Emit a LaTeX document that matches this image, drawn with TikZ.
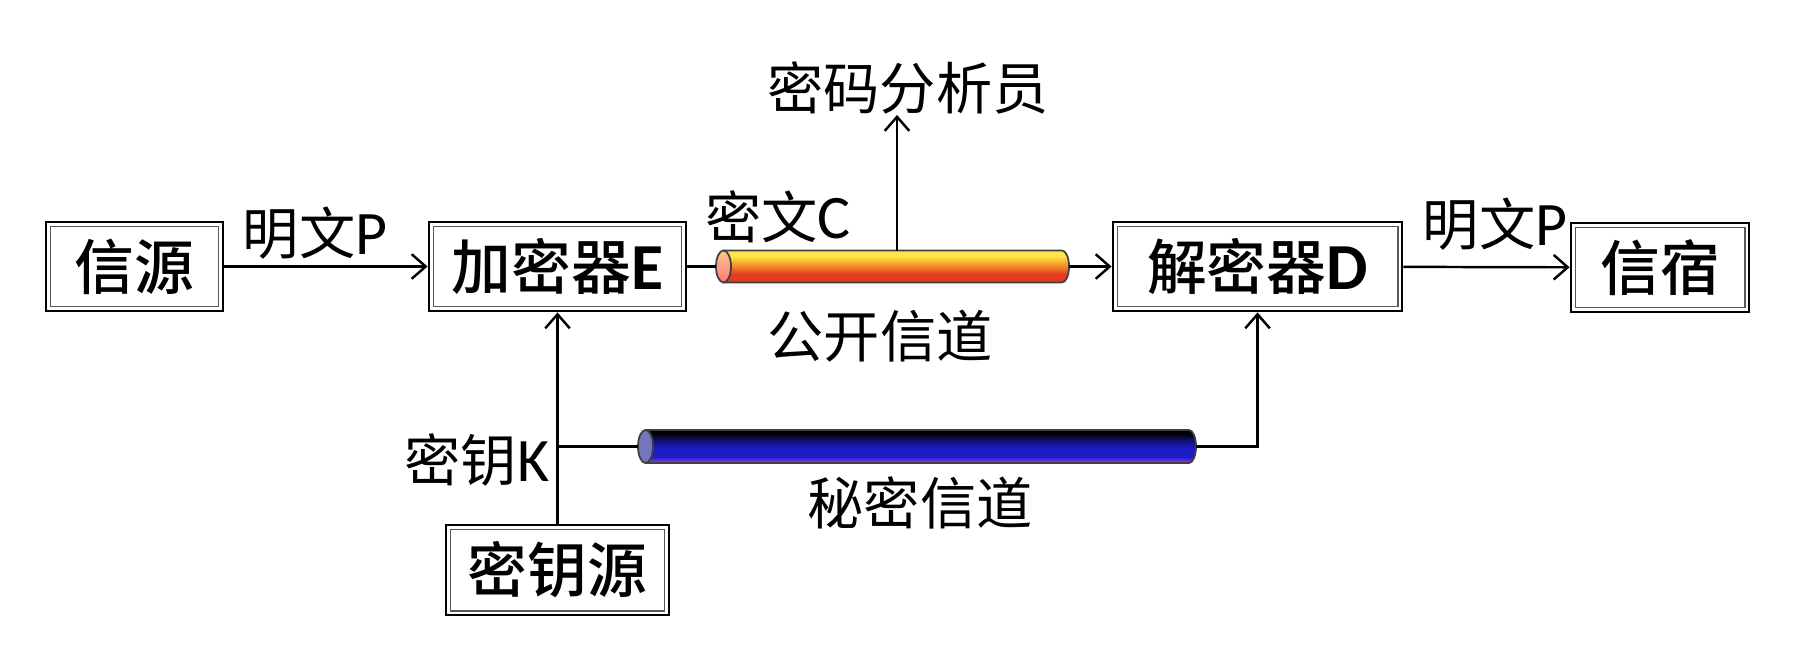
\documentclass[tikz,border=0pt]{standalone}
\usepackage{fontspec}
\setmainfont{Noto Sans CJK SC}
\newfontfamily\boxfont{Noto Sans CJK SC Medium}
\newfontfamily\latfont{Carlito}[Scale=1.1]
\newcommand\lat[1]{{\latfont #1}}
\usetikzlibrary{arrows.meta}
\definecolor{tuYellow}{HTML}{FFE545}
\definecolor{tuOrange}{HTML}{F39A2A}
\definecolor{tuRed}{HTML}{E33A22}
\definecolor{secBlue}{HTML}{1C1CC8}
\definecolor{secPurple}{HTML}{8A2BE0}
\pgfdeclareverticalshading{pubtube}{100bp}{color(0bp)=(red!45!black); color(25bp)=(red!45!black); color(27bp)=(tuRed); color(38bp)=(tuRed); color(53bp)=(tuOrange); color(66bp)=(tuYellow); color(75bp)=(tuYellow); color(100bp)=(tuYellow)}
\pgfdeclareverticalshading{sectube}{100bp}{color(0bp)=(secPurple); color(25bp)=(secPurple); color(28bp)=(secPurple); color(34bp)=(secBlue); color(46bp)=(secBlue); color(60bp)=(secBlue!55!black); color(70bp)=(black); color(100bp)=(black)}

\begin{document}
\begin{tikzpicture}[>={Straight Barb[length=4pt,width=7pt]},
  blk/.style={draw=black,line width=0.8pt,minimum height=0.89cm,inner sep=0pt,
    font=\fontsize{17pt}{19pt}\selectfont\boxfont},
  innerline/.style={gray!70!black,line width=0.4pt},
  lbl/.style={inner sep=0pt,font=\fontsize{16pt}{18pt}\selectfont},
  conn/.style={line width=0.7pt}]
\useasboundingbox (0,0) rectangle (18.02,6.54);
% boxes
\node[blk,minimum width=1.77cm] (src) at (1.345,3.875) {信源};
\node[blk,minimum width=2.57cm] (enc) at (5.575,3.875) {加密器\lat{\bfseries E}};
\node[blk,minimum width=2.89cm] (dec) at (12.575,3.875) {解密器\lat{\bfseries D}};
\node[blk,minimum width=1.78cm] (dst) at (16.60,3.865) {信宿};
\node[blk,minimum width=2.23cm,minimum height=0.90cm] (ksrc) at (5.575,0.84) {密钥源};
\foreach \n in {src,enc,dec,dst,ksrc}
  \draw[innerline] ([shift={(1.6pt,1.6pt)}]\n.south west) rectangle ([shift={(-1.6pt,-1.6pt)}]\n.north east);
% labels
\node[lbl] (ptxtL) at (3.15,4.21) {明文\lat{P}};
\node[lbl] (ctxt) at (7.78,4.37) {密文\lat{C}};
\node[lbl] (ana) at (9.08,5.66) {密码分析员};
\node[lbl] (pubch) at (8.80,3.18) {公开信道};
\node[lbl] (ptxtR) at (14.95,4.30) {明文\lat{P}};
\node[lbl] (key) at (4.77,1.94) {密钥\lat{K}};
\node[lbl] (secch) at (9.20,1.51) {秘密信道};
% public channel tube
\coordinate (pubW) at (7.16,3.875);
\coordinate (pubE) at (10.69,3.875);
\coordinate (tap) at (8.97,4.035);
\shadedraw[shading=pubtube,draw=black!75,line width=0.5pt] (7.235,3.715) -- (10.62,3.715)
  arc[start angle=-90,end angle=90,x radius=0.07,y radius=0.16] -- (7.235,4.035) -- cycle;
\draw[draw=black!75,line width=0.5pt,top color=orange!45!white,bottom color=red!45!pink!90!white]
  (7.235,3.875) ellipse[x radius=0.075,y radius=0.16];
% secret channel tube
\coordinate (secW) at (6.38,2.075);
\coordinate (secE) at (11.96,2.075);
\shadedraw[shading=sectube,draw=black!75,line width=0.5pt] (6.455,1.91) -- (11.89,1.91)
  arc[start angle=-90,end angle=90,x radius=0.07,y radius=0.165] -- (6.455,2.24) -- cycle;
\draw[draw=black!75,line width=0.5pt,fill=blue!35!gray!80!white]
  (6.455,2.075) ellipse[x radius=0.075,y radius=0.165];
% connectors
\draw[conn,->] (src) -- (enc);
\draw[conn] (enc) -- (pubW);
\draw[conn,->] (pubE) -- (dec);
\draw[conn,->] (dec) -- (dst);
\draw[conn,->] (tap) -- (tap |- ana.south);
\draw[conn,->] (ksrc) -- (enc);
\draw[conn] (secW) -- (secW -| ksrc);
\draw[conn,->] (secE) -| (dec);
\end{tikzpicture}
\end{document}
